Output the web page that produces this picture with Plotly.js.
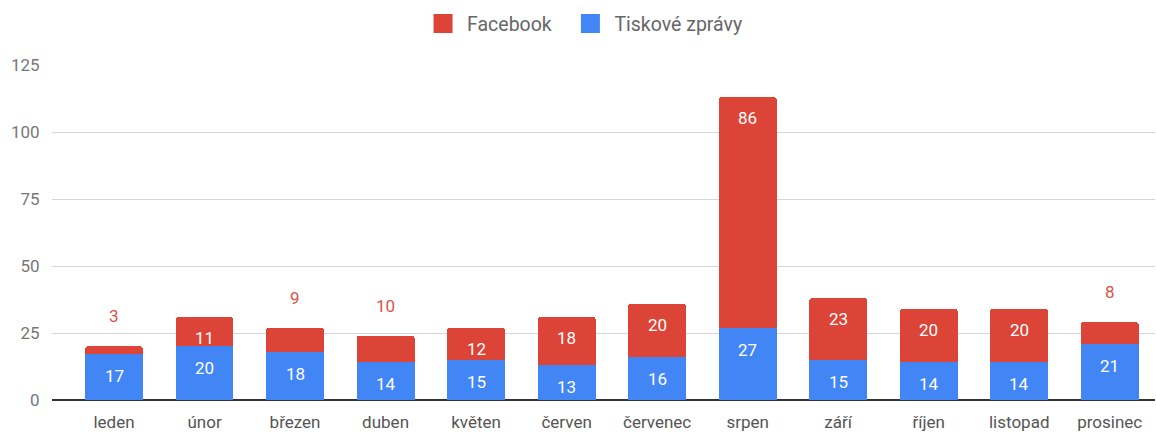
<!DOCTYPE html>
<html><head><meta charset="utf-8">
<script src="https://cdn.plot.ly/plotly-3.0.1.min.js"></script>
<style>html,body{margin:0;padding:0;background:#fff}#chart{width:1156px;height:432px}</style>
</head><body><div id="chart"></div>
<script>
const months = ["leden","únor","březen","duben","květen","červen","červenec","srpen","září","říjen","listopad","prosinec"];
const tiskove = [17,20,18,14,15,13,16,27,15,14,14,21];
const facebook = [3,11,9,10,12,18,20,86,23,20,20,8];
const yTicks = [0,25,50,75,100,125];

const RED = "#db4437", BLUE = "#4285f4";
const FONT = "Roboto, 'Noto Sans', sans-serif";

const traces = [
  {type:"bar", x:months, y:tiskove, marker:{color:BLUE}, width:0.64, showlegend:false, hoverinfo:"skip"},
  {type:"bar", x:months, y:facebook, marker:{color:RED, cornerradius:3}, width:0.64, showlegend:false, hoverinfo:"skip"},
  {type:"scatter", mode:"markers", x:[null], y:[null], name:"Facebook\u00a0\u00a0", marker:{symbol:"square", size:16, color:RED, line:{color:RED, width:3}}},
  {type:"scatter", mode:"markers", x:[null], y:[null], name:"Tiskové zprávy", marker:{symbol:"square", size:16, color:BLUE, line:{color:BLUE, width:3}}}
];

const annotations = [];
months.forEach((m,i)=>{
  annotations.push({x:m, y:tiskove[i], yref:"y", xref:"x", text:String(tiskove[i]), showarrow:false,
    yshift:-22, font:{family:FONT, size:17, color:"#ffffff"}});
  const top = tiskove[i]+facebook[i];
  const inside = facebook[i] >= 11;
  annotations.push({x:m, y:top, yref:"y", xref:"x", text:String(facebook[i]), showarrow:false,
    yshift: inside ? -21 : 30, font:{family:FONT, size:17, color: inside ? "#ffffff" : "#d9534a"}});
});

const layout = {
  width:1156, height:432,
  margin:{l:52, r:1, t:65, b:32},
  paper_bgcolor:"#fff", plot_bgcolor:"#fff",
  barmode:"stack",
  font:{family:FONT, color:"#666"},
  showlegend:true,
  legend:{orientation:"h", xref:"container", yref:"container", x:0.5048, xanchor:"center", y:0.945, yanchor:"middle",
    font:{family:FONT, size:19.5, color:"#666"}, itemsizing:"trace", traceorder:"normal", itemwidth:38},
  xaxis:{type:"category", range:[-0.685,11.5], showgrid:false, zeroline:false, showline:false,
    ticks:"outside", ticklen:7, tickcolor:"rgba(0,0,0,0)",
    tickfont:{family:FONT, size:17, color:"#555"}},
  yaxis:{range:[0,125], tickvals:yTicks, ticktext:yTicks.map(String), showgrid:true, gridcolor:"#d6d6d6", gridwidth:1,
    zeroline:true, zerolinecolor:"#333", zerolinewidth:1.5, showline:false,
    ticks:"outside", ticklen:8, tickcolor:"rgba(0,0,0,0)",
    tickfont:{family:FONT, size:17, color:"#777"}},
  annotations:annotations
};
Plotly.newPlot("chart", traces, layout, {displayModeBar:false, staticPlot:true});
</script></body></html>
